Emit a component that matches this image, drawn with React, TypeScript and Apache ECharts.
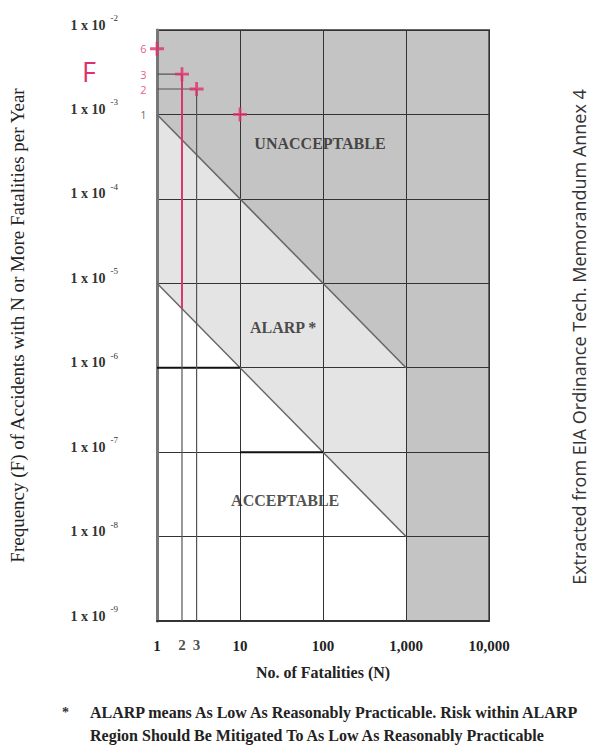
import React, { useEffect, useRef } from "react";
import * as echarts from "echarts";

// ---- data ----
const xRange = [1, 10000];
const yRange = [1e-9, 1e-2];
const unacceptableRegion = [
  [1, 1e-2], [10000, 1e-2], [10000, 1e-9], [1000, 1e-9], [1000, 1e-6], [1, 1e-3],
];
const alarpRegion = [
  [1, 1e-3], [1000, 1e-6], [1000, 1e-8], [1, 1e-5],
];
const upperCriterion = [[1, 1e-3], [1000, 1e-6]];
const lowerCriterion = [[1, 1e-5], [1000, 1e-8]];
const stepA = [[1, 1e-6], [10, 1e-6]];
const stepB = [[10, 1e-7], [100, 1e-7]];
// assessed points (N, F)
const points = [[1, 6e-3], [2, 3e-3], [3, 2e-3], [10, 1e-3]];
const pointLabels = [
  [1, 6e-3, "6", "#e0306a"],
  [1, 3e-3, "3", "#e0306a"],
  [1, 2e-3, "2", "#e0306a"],
  [1, 1e-3, "1", "#444"],
];
const guideH1 = [[1, 3e-3], [2, 3e-3]];
const guideH2 = [[1, 2e-3], [3, 2e-3]];
const guideV2 = [[2, 3e-3], [2, 1e-9]];
const guideV2Pink = [[2, 3e-3], [2, 5e-6]];
const guideV3 = [[3, 2e-3], [3, 1e-9]];
const extraTicks = [[2, 1e-9, "2"], [3, 1e-9, "3"]];
const regionLabels = [
  [92, 4.5e-4, "UNACCEPTABLE"],
  [33, 3e-6, "ALARP *"],
  [35, 2.7e-8, "ACCEPTABLE"],
];

const SERIF = "'Liberation Serif', 'DejaVu Serif', serif";
const SANS = "'Open Sans', 'Noto Sans', sans-serif";
const PINK = "#e0306a";
const CLEAR = "rgba(0,0,0,0)";

function polySeries(poly: number[][], color: string) {
  return {
    type: "custom",
    silent: true,
    z: -1,
    clip: true,
    data: poly,
    renderItem: (params: any, api: any) => {
      if (params.dataIndex !== 0) return null;
      const pts = poly.map((p) => api.coord(p));
      return { type: "polygon", shape: { points: pts }, style: { fill: color } };
    },
  };
}

function lineSeries(data: number[][], color: string, width: number, z = 3) {
  return {
    type: "line",
    data,
    symbol: "none",
    silent: true,
    z,
    lineStyle: { color, width },
  };
}

function labelSeries(data: any[], label: any) {
  return {
    type: "scatter",
    data,
    symbol: "circle",
    symbolSize: 1,
    itemStyle: { color: CLEAR },
    silent: true,
    z: 6,
    label: { show: true, formatter: "{b}", ...label },
  };
}

export default function App() {
  const ref = useRef<HTMLDivElement>(null);
  useEffect(() => {
    if (!ref.current) return;
    const chart = echarts.init(ref.current, undefined, { renderer: "svg" });
    chart.setOption({
      animation: false,
      backgroundColor: "#fff",
      grid: {
        left: 157, top: 30, width: 332, height: 591,
        show: true, borderColor: "#666", borderWidth: 2, backgroundColor: "transparent",
      },
      xAxis: {
        type: "log", logBase: 10, min: xRange[0], max: xRange[1], splitNumber: 4,
        name: "No. of Fatalities (N)", nameLocation: "middle", nameGap: 43,
        nameTextStyle: { fontFamily: SERIF, fontSize: 16, fontWeight: "bold", color: "#222" },
        axisLine: { show: true, lineStyle: { color: "#333", width: 2 } },
        axisTick: { show: false },
        splitLine: { show: true, lineStyle: { color: "#333", width: 1 } },
        axisLabel: {
          margin: 17, fontFamily: SERIF, fontSize: 15, fontWeight: "bold", color: "#222",
          formatter: (v: number) => Math.round(v).toLocaleString("en-US"),
        },
      },
      yAxis: {
        type: "log", logBase: 10, min: yRange[0], max: yRange[1], splitNumber: 7,
        name: "Frequency (F) of Accidents with N or More Fatalities per Year",
        nameLocation: "middle", nameGap: 130,
        nameTextStyle: { fontFamily: SERIF, fontSize: 19, color: "#222" },
        axisLine: { show: true, lineStyle: { color: "#777", width: 3 } },
        axisTick: { show: false },
        splitLine: { show: true, lineStyle: { color: "#333", width: 1 } },
        axisLabel: {
          margin: 39, fontFamily: SERIF, color: "#222",
          formatter: (v: number) => `{a|1 x 10}{b|${Math.round(Math.log10(v))}}`,
          rich: {
            a: { fontFamily: SERIF, fontSize: 14, fontWeight: "bold", color: "#333", padding: [0, 0, 10, 0] },
            b: { fontFamily: SERIF, fontSize: 9, color: "#333", padding: [0, 0, 24, 5] },
          },
        },
      },
      series: [
        polySeries(unacceptableRegion, "#c4c4c4"),
        polySeries(alarpRegion, "#e4e4e4"),
        lineSeries(upperCriterion, "#666", 1.5),
        lineSeries(lowerCriterion, "#666", 1.5),
        lineSeries(stepA, "#111", 2),
        lineSeries(stepB, "#111", 2),
        lineSeries(guideH1, "#555", 1.2),
        lineSeries(guideH2, "#555", 1.2),
        lineSeries(guideV2, "#555", 1.2),
        lineSeries(guideV3, "#555", 1.2),
        lineSeries(guideV2Pink, PINK, 1.8, 4),
        {
          type: "scatter",
          data: points,
          symbol: "path://M4,0H6V4H10V6H6V10H4V6H0V4H4Z",
          symbolSize: 14,
          itemStyle: { color: PINK },
          z: 5,
          silent: true,
        },
        labelSeries(
          pointLabels.map((d) => ({
            value: [d[0], d[1]], name: d[2],
            label: { color: d[3] as string },
          })),
          { position: "left", distance: 10, fontFamily: SANS, fontSize: 11, lineHeight: 11 },
        ),
        labelSeries(
          extraTicks.map((d) => ({ value: [d[0], d[1]], name: d[2] })),
          { position: "bottom", distance: 16, fontFamily: SERIF, fontSize: 15, fontWeight: "bold", color: "#222" },
        ),
        labelSeries(
          regionLabels.map((d) => ({ value: [d[0], d[1]], name: d[2] })),
          { position: "inside", fontFamily: SERIF, fontSize: 16, fontWeight: "bold", color: "#222" },
        ),
      ],
      graphic: [
        {
          type: "text", left: 82, top: 58,
          style: { text: "F", fill: PINK, font: `27px ${SANS}` },
        },
        {
          type: "text", x: 579, y: 337, rotation: Math.PI / 2,
          style: {
            text: "Extracted from EIA Ordinance Tech. Memorandum Annex 4",
            fill: "#333", font: `18px ${SANS}`, align: "center", verticalAlign: "middle",
          },
        },
        {
          type: "text", x: 62, y: 712,
          style: { text: "*", fill: "#333", font: `bold 14px ${SERIF}`, verticalAlign: "middle" },
        },
        {
          type: "text", x: 90, y: 712,
          style: {
            text: "ALARP means As Low As Reasonably Practicable. Risk within ALARP",
            fill: "#222", font: `bold 16px ${SERIF}`, verticalAlign: "middle",
          },
        },
        {
          type: "text", x: 90, y: 735,
          style: {
            text: "Region Should Be Mitigated To As Low As Reasonably Practicable",
            fill: "#222", font: `bold 16px ${SERIF}`, verticalAlign: "middle",
          },
        },
      ],
    });
    return () => chart.dispose();
  }, []);
  return (
    <div
      ref={ref}
      style={{ position: "fixed", left: 0, top: 0, width: 594, height: 749 }}
    />
  );
}
